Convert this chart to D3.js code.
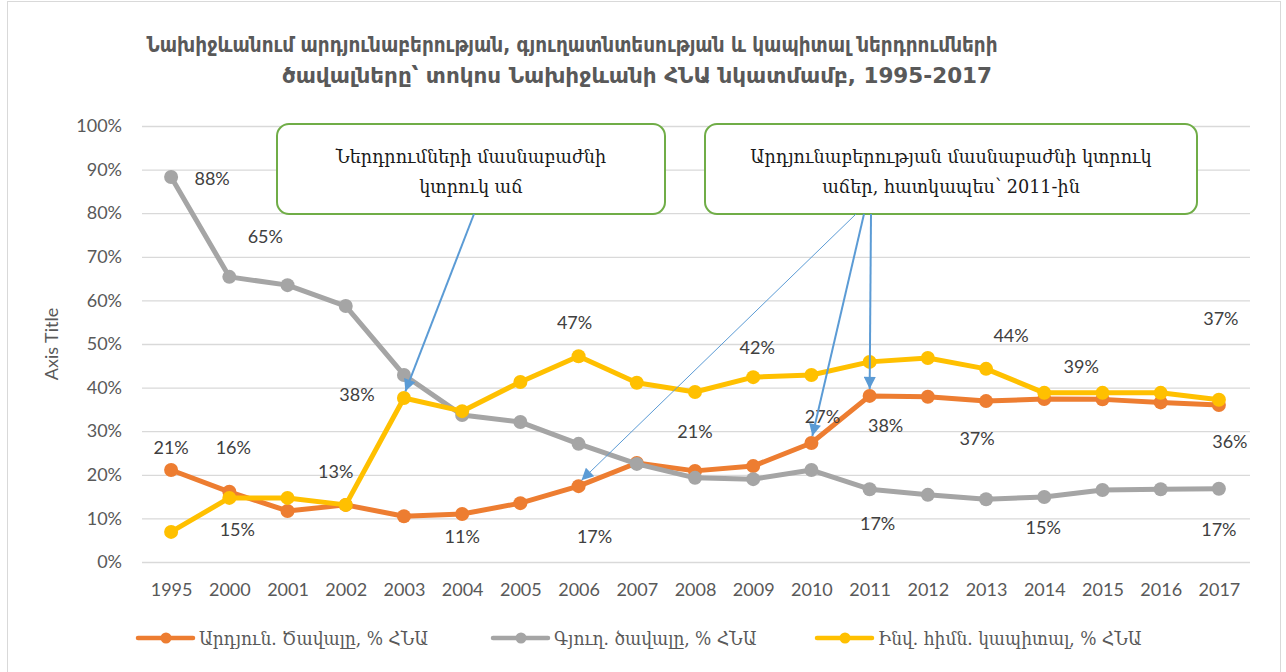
<!DOCTYPE html>
<html>
<head>
<meta charset="utf-8">
<title>Նախիջևան</title>
<style>
  body { margin: 0; background: #fff; }
  text { font-family: Lato, "DejaVu Sans Condensed", sans-serif; fill: #595959; }
  .tick text { font-size: 18px; }
  .lbl { font-size: 18px; fill: #404040; }
  .callout text { font-family: "DejaVu Serif", serif; font-size: 17.6px; fill: #1a1a1a; }
  .legend text { font-family: "DejaVu Serif Condensed", "DejaVu Serif", serif; font-size: 19px; fill: #595959; }
</style>
<script src="https://cdn.jsdelivr.net/npm/d3@7"></script>
</head>
<body>
<div id="chart"></div>
<script>
// ---- data ----
var years = ["1995","2000","2001","2002","2003","2004","2005","2006","2007","2008","2009","2010","2011","2012","2013","2014","2015","2016","2017"];
var industry = [0.211,0.161,0.117,0.131,0.105,0.110,0.135,0.174,0.227,0.209,0.220,0.273,0.381,0.379,0.369,0.374,0.373,0.366,0.360];
var agriculture = [0.883,0.654,0.635,0.587,0.429,0.337,0.321,0.271,0.225,0.193,0.190,0.211,0.167,0.154,0.144,0.149,0.165,0.167,0.168];
var investment = [0.069,0.147,0.147,0.131,0.376,0.346,0.413,0.472,0.411,0.390,0.424,0.429,0.459,0.468,0.443,0.388,0.388,0.388,0.372];
var yTicks = [0,0.1,0.2,0.3,0.4,0.5,0.6,0.7,0.8,0.9,1];
var seriesNames = ["Արդյուն. Ծավալը, % ՀՆԱ", "Գյուղ. ծավալը, % ՀՆԱ", "Ինվ. հիմն. կապիտալ, % ՀՆԱ"];
var titleLines = ["Նախիջևանում արդյունաբերության, գյուղատնտեսության և կապիտալ ներդրումների",
                  "ծավալները՝ տոկոս Նախիջևանի ՀՆԱ նկատմամբ, 1995-2017"];
var notes = [
  {lines: ["Ներդրումների մասնաբաժնի", "կտրուկ աճ"], targets: [{s: 2, year: "2003"}]},
  {lines: ["Արդյունաբերության մասնաբաժնի կտրուկ", "աճեր, հատկապես՝ 2011-ին"],
   targets: [{s: 0, year: "2006"}, {s: 0, year: "2010"}, {s: 0, year: "2011"}]}
];

// label placement (which points carry a value label, and offset from the point)
var labelSpots = [
  [{i:0,dx:0,dy:-23},{i:1,dx:4,dy:-45},{i:3,dx:-10,dy:-34},{i:5,dx:0,dy:22},{i:7,dx:16,dy:50},
   {i:9,dx:0,dy:-40},{i:11,dx:11,dy:-27},{i:12,dx:16,dy:29},{i:14,dx:-9,dy:37},{i:18,dx:11,dy:36}],
  [{i:0,dx:41,dy:1},{i:1,dx:36,dy:-41},{i:12,dx:8,dy:34},{i:15,dx:-1,dy:30},{i:18,dx:0,dy:40}],
  [{i:1,dx:8,dy:31},{i:4,dx:-47,dy:-4},{i:7,dx:-4,dy:-34},{i:10,dx:4,dy:-30},{i:14,dx:25,dy:-34},
   {i:15,dx:37,dy:-27},{i:18,dx:2,dy:-82}]
];

var colors = ["#ED7D31", "#A5A5A5", "#FFC000"];
var allSeries = [industry, agriculture, investment];

var W = 1286, H = 672;
var plot = {left: 142, right: 1248, top: 126, bottom: 562};

var svg = d3.select("#chart").append("svg")
  .attr("width", W).attr("height", H);

svg.append("rect")
  .attr("x", 7.5).attr("y", 1.5).attr("width", 1273).attr("height", 676)
  .attr("fill", "#fff").attr("stroke", "#d9d9d9");

var x = d3.scalePoint().domain(years).range([plot.left, plot.right]).padding(0.5);
var y = d3.scaleLinear().domain([0, 1]).range([plot.bottom, plot.top]);

// title
var titleBox = [{cx: 572, w: 851}, {cx: 637, w: 710}];
svg.append("g").selectAll("text")
  .data(titleLines).enter().append("text")
  .attr("x", (d, i) => titleBox[i].cx)
  .attr("y", (d, i) => 52 + i * 31)
  .attr("text-anchor", "middle")
  .attr("textLength", (d, i) => titleBox[i].w)
  .attr("lengthAdjust", "spacingAndGlyphs")
  .style("font-size", "21px").style("font-weight", "bold")
  .style("font-family", "'DejaVu Sans Condensed', sans-serif")
  .text(d => d);

// y axis with grid
var yAxis = d3.axisLeft(y).tickValues(yTicks).tickFormat(d3.format(".0%"))
  .tickSize(-(plot.right - plot.left + 2)).tickPadding(20);
var gy = svg.append("g").attr("transform", "translate(" + plot.left + ",0)").call(yAxis);
gy.select(".domain").remove();
gy.selectAll("line").attr("stroke", "#d9d9d9").attr("stroke-width", 1.3);
gy.selectAll("text").attr("fill", "#595959");

// x axis
var gx = svg.append("g").attr("transform", "translate(0," + plot.bottom + ")")
  .call(d3.axisBottom(x).tickSize(0).tickPadding(21));
gx.select(".domain").remove();
gx.selectAll("text").attr("fill", "#595959");

// axis title
svg.append("text")
  .attr("transform", "translate(58," + ((plot.top + plot.bottom) / 2) + ") rotate(-90)")
  .attr("text-anchor", "middle")
  .style("font-size", "18px")
  .text("Axis Title");

// lines and markers
var line = d3.line().x((d, i) => x(years[i])).y(d => y(d));
[0, 1, 2].forEach(function(s) {
  var g = svg.append("g");
  g.append("path")
    .attr("d", line(allSeries[s]))
    .attr("fill", "none").attr("stroke", colors[s])
    .attr("stroke-width", 5).attr("stroke-linejoin", "round");
  g.selectAll("circle").data(allSeries[s]).enter().append("circle")
    .attr("cx", (d, i) => x(years[i])).attr("cy", d => y(d))
    .attr("r", 7).attr("fill", colors[s]);
});

// value labels
labelSpots.forEach(function(spots, s) {
  svg.append("g").selectAll("text").data(spots).enter().append("text")
    .attr("class", "lbl")
    .attr("x", d => x(years[d.i]) + d.dx)
    .attr("y", d => y(allSeries[s][d.i]) + d.dy)
    .attr("text-anchor", "middle").attr("dominant-baseline", "central")
    .text(d => Math.round(allSeries[s][d.i] * 100) + "%");
});

// callouts
svg.append("defs").append("marker")
  .attr("id", "head").attr("viewBox", "0 0 10 10")
  .attr("refX", 10).attr("refY", 5)
  .attr("markerWidth", 14).attr("markerHeight", 12)
  .attr("markerUnits", "userSpaceOnUse")
  .attr("orient", "auto")
  .append("path").attr("d", "M0,0 L10,5 L0,10 Z").attr("fill", "#5B9BD5");

var boxes = [
  {x: 277, y: 124, w: 388, h: 90, starts: [474]},
  {x: 705, y: 124, w: 492, h: 90, starts: [856, 864, 871]}
];
var widths = [[2], [1, 2, 2]];

notes.forEach(function(n, k) {
  var b = boxes[k];
  var g = svg.append("g").attr("class", "callout");
  g.append("rect").attr("x", b.x).attr("y", b.y).attr("width", b.w).attr("height", b.h)
    .attr("rx", 12).attr("fill", "#fff").attr("stroke", "#70AD47").attr("stroke-width", 2);
  g.selectAll("text").data(n.lines).enter().append("text")
    .attr("x", b.x + b.w / 2).attr("y", (d, i) => b.y + 33 + i * 30)
    .attr("text-anchor", "middle").attr("dominant-baseline", "central")
    .text(d => d);
  n.targets.forEach(function(t, j) {
    var tx = x(t.year), ty = y(allSeries[t.s][years.indexOf(t.year)]) - 3;
    var sx = b.starts[j], sy = b.y + b.h;
    var len = Math.hypot(tx - sx, ty - sy);
    var ex = tx - (tx - sx) / len * 4, ey = ty - (ty - sy) / len * 4;
    g.append("line")
      .attr("x1", sx).attr("y1", sy).attr("x2", ex).attr("y2", ey)
      .attr("stroke", "#5B9BD5").attr("stroke-width", widths[k][j])
      .attr("marker-end", "url(#head)");
  });
});

// legend
var legend = svg.append("g").attr("class", "legend");
var legX = [138, 493, 817];
seriesNames.forEach(function(name, s) {
  var lg = legend.append("g").attr("transform", "translate(" + legX[s] + ",638)");
  lg.append("line").attr("x1", 0).attr("x2", 55).attr("stroke", colors[s])
    .attr("stroke-width", 4.5).attr("stroke-linecap", "round");
  lg.append("circle").attr("cx", 28).attr("r", 5.5).attr("fill", colors[s]);
  lg.append("text").attr("x", 61).attr("dominant-baseline", "central").text(name);
});
</script>
</body>
</html>
